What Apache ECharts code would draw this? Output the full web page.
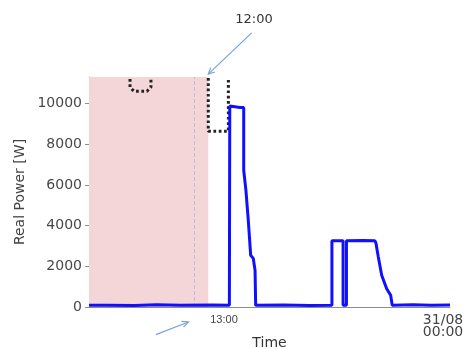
<!DOCTYPE html>
<html>
  <head>
    <meta charset="UTF-8" />
    <title></title>
    <style type="text/css">
      * {
        margin: 0;
        padding: 0;
      }
      body {
        background: #fff;
      }
      #main {
        width: 463px;
        height: 349px;
      }
    </style>
  </head>

  <body>
    <div id="main"></div>
  </body>
  <script src="https://cdn.jsdelivr.net/npm/echarts@6/dist/echarts.min.js"></script>
  <script type="text/javascript">
    // time in hours of the day, power in W
    var powerHours = [6.22, 7.15, 7.2, 7.25, 8.5, 9.6, 10.8, 12.4, 13.27,
      13.29, 13.35, 13.8, 13.9, 13.99,
      13.99, 14.10, 14.22, 14.34, 14.47, 14.56, 14.59,
      16.0, 17.3, 18.42, 18.42, 18.98, 18.98, 19.15, 19.15, 20.0, 20.58,
      20.63, 20.75, 20.92, 21.17, 21.37, 21.45, 22.5, 23.4, 24.35]
    var powerValues = [90, 90, 160, 90, 70, 110, 80, 100, 90,
      9870, 9800, 9800, 9870, 9800,
      6720, 5740, 4260, 2540, 2390, 1800, 80,
      100, 70, 90, 3250, 3250, 80, 80, 3250, 3270, 3250,
      3150, 2460, 1560, 900, 575, 80, 110, 90, 100]

    // dotted outlines
    var smallHours = [8.28, 8.28, 8.48, 9.13, 9.33, 9.33]
    var smallValues = [11200, 10800, 10600, 10600, 10800, 11200]
    var bigHours = [12.21, 12.21, 13.22, 13.22]
    var bigValues = [11250, 8640, 8640, 11150]

    var shadeFrom = 6.22
    var shadeTo = 12.21
    var dashedHour = 11.5

    var yTicks = [0, 2000, 4000, 6000, 8000, 10000]
    var xTicks = [13, 24]
    var xTickLabels = ['13:00', '31/08\n00:00']

    // annotation arrows [tail, tip] in data coords
    var arrowTop = [[14.39, 13470], [12.21, 11440]]
    var arrowBottom = [[9.58, -1357], [11.21, -737]]

    function pairs(xs, ys) {
      return xs.map(function (x, i) { return [x, ys[i]] })
    }

    var myCharts = echarts.init(document.getElementById('main'))
    var font = 'DejaVu Sans'
    var option = {
      animation: false,
      grid: { left: 89, right: 13, top: 77, bottom: 42, outerBoundsMode: 'none' },
      xAxis: {
        type: 'value',
        min: 6.22,
        max: 24.35,
        name: 'Time',
        nameLocation: 'middle',
        nameGap: 29,
        nameMoveOverlap: false,
        nameTextStyle: { fontFamily: font, fontSize: 14, color: '#333' },
        axisLine: { lineStyle: { color: '#8c8c8c', width: 1 } },
        axisTick: { show: false },
        splitLine: { show: false },
        axisLabel: {
          customValues: xTicks,
          margin: 7,
          formatter: function (v) {
            var t = xTickLabels[xTicks.indexOf(v)]
            if (v === 13) return '{s|' + t + '}'
            return t.split('\n').map(function (p) { return '{b|' + p + '}' }).join('\n')
          },
          rich: {
            s: { fontFamily: 'Liberation Sans', fontSize: 11, color: '#444' },
            b: { fontFamily: font, fontSize: 14, color: '#444', lineHeight: 12 }
          }
        }
      },
      yAxis: {
        type: 'value',
        min: 0,
        max: 11300,
        name: 'Real Power [W]',
        nameLocation: 'middle',
        nameGap: 62,
        nameMoveOverlap: false,
        nameTextStyle: { fontFamily: font, fontSize: 14, color: '#444' },
        axisLine: { show: true, lineStyle: { color: '#8c8c8c', width: 1 } },
        axisTick: { show: true, length: 4, customValues: yTicks, lineStyle: { color: '#8c8c8c' } },
        splitLine: { show: false },
        axisLabel: {
          customValues: yTicks,
          margin: 7,
          fontFamily: font,
          fontSize: 14,
          color: '#484848',
          formatter: function (v) { return String(v) }
        }
      },
      series: [
        {
          type: 'line',
          data: [],
          silent: true,
          markArea: {
            silent: true,
            itemStyle: { color: '#f4d6d8' },
            data: [[{ xAxis: shadeFrom }, { xAxis: shadeTo }]]
          },
          markLine: {
            silent: true,
            symbol: 'none',
            label: { show: false },
            lineStyle: { color: '#c6b8e2', type: [4, 2], width: 1 },
            data: [{ xAxis: dashedHour }]
          }
        },
        {
          type: 'line',
          data: pairs(smallHours, smallValues),
          showSymbol: false,
          lineStyle: { color: '#222', width: 3, type: [2.7, 2.6] }
        },
        {
          type: 'line',
          data: pairs(bigHours, bigValues),
          showSymbol: false,
          lineStyle: { color: '#222', width: 3, type: [2.7, 2.6] }
        },
        {
          type: 'line',
          data: pairs(powerHours, powerValues),
          showSymbol: false,
          z: 5,
          lineStyle: { color: '#1010ff', width: 3 }
        }
      ]
    }
    myCharts.setOption(option)

    function arrow(a) {
      var p0 = myCharts.convertToPixel({ gridIndex: 0 }, a[0])
      var p1 = myCharts.convertToPixel({ gridIndex: 0 }, a[1])
      var ang = Math.atan2(p1[1] - p0[1], p1[0] - p0[0])
      var L = 7, s = 0.45
      var h1 = [p1[0] - L * Math.cos(ang - s), p1[1] - L * Math.sin(ang - s)]
      var h2 = [p1[0] - L * Math.cos(ang + s), p1[1] - L * Math.sin(ang + s)]
      var st = { stroke: '#79a3d6', lineWidth: 1.2, fill: null }
      return [
        { type: 'polyline', shape: { points: [p0, p1] }, style: st },
        { type: 'polyline', shape: { points: [h1, p1, h2] }, style: st }
      ]
    }

    myCharts.setOption({
      graphic: arrow(arrowTop).concat(arrow(arrowBottom)).concat([
        {
          type: 'text',
          x: 254,
          y: 20,
          style: {
            text: '12:00',
            font: '13px DejaVu Sans',
            fill: '#333',
            align: 'center',
            verticalAlign: 'middle'
          }
        }
      ])
    })
  </script>
</html>
